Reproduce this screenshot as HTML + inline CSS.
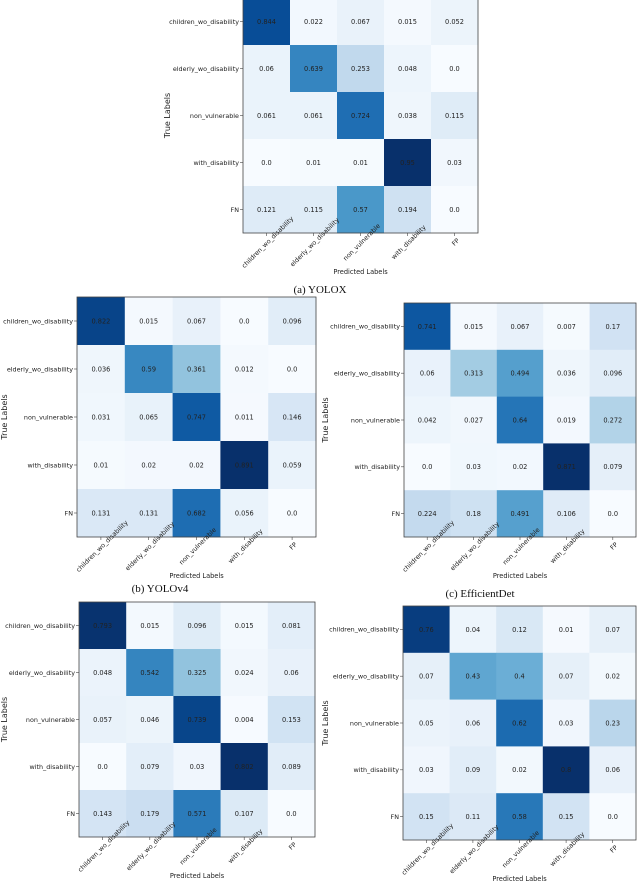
<!DOCTYPE html>
<html><head><meta charset="utf-8">
<style>
html,body{margin:0;padding:0;background:#fff;}
svg{display:block;}
text{font-family:"DejaVu Sans","Liberation Sans",sans-serif;}
.cap{font-family:"Liberation Serif",serif;font-size:11px;fill:#111;}
</style></head>
<body>
<svg id="fig" width="640" height="886" viewBox="0 0 640 886" xmlns="http://www.w3.org/2000/svg"></svg>
<script>
const categories = ["children_wo_disability","elderly_wo_disability","non_vulnerable","with_disability","FN"];
const predCategories = ["children_wo_disability","elderly_wo_disability","non_vulnerable","with_disability","FP"];
const yoloxValues = [
 [0.844,0.022,0.067,0.015,0.052],
 [0.06,0.639,0.253,0.048,0.0],
 [0.061,0.061,0.724,0.038,0.115],
 [0.0,0.01,0.01,0.95,0.03],
 [0.121,0.115,0.57,0.194,0.0]];
const yolov4Values = [
 [0.822,0.015,0.067,0.0,0.096],
 [0.036,0.59,0.361,0.012,0.0],
 [0.031,0.065,0.747,0.011,0.146],
 [0.01,0.02,0.02,0.891,0.059],
 [0.131,0.131,0.682,0.056,0.0]];
const efficientdetValues = [
 [0.741,0.015,0.067,0.007,0.17],
 [0.06,0.313,0.494,0.036,0.096],
 [0.042,0.027,0.64,0.019,0.272],
 [0.0,0.03,0.02,0.871,0.079],
 [0.224,0.18,0.491,0.106,0.0]];
const model4Values = [
 [0.793,0.015,0.096,0.015,0.081],
 [0.048,0.542,0.325,0.024,0.06],
 [0.057,0.046,0.739,0.004,0.153],
 [0.0,0.079,0.03,0.802,0.089],
 [0.143,0.179,0.571,0.107,0.0]];
const model5Values = [
 [0.76,0.04,0.12,0.01,0.07],
 [0.07,0.43,0.4,0.07,0.02],
 [0.05,0.06,0.62,0.03,0.23],
 [0.03,0.09,0.02,0.8,0.06],
 [0.15,0.11,0.58,0.15,0.0]];
const captions = ["(a) YOLOX","(b) YOLOv4","(c) EfficientDet","",""];

const layouts = [
 {key:"yolox",vals:yoloxValues,l:243,t:-2,w:235,h:235,ylx:170,cap:[320,293]},
 {key:"yolov4",vals:yolov4Values,l:77,t:297,w:239,h:240,ylx:7,cap:[160,592]},
 {key:"efficientdet",vals:efficientdetValues,l:404,t:303,w:232,h:234,ylx:328,cap:[480,597]},
 {key:"model-d",vals:model4Values,l:79,t:602,w:236,h:235,ylx:7,cap:null},
 {key:"model-e",vals:model5Values,l:403,t:606,w:233,h:234,ylx:328,cap:null}];

const blues=["#f7fbff","#deebf7","#c6dbef","#9ecae1","#6baed6","#4292c6","#2171b5","#08519c","#08306b"];
function hex(c){return [1,3,5].map(i=>parseInt(c.substr(i,2),16));}
function cmap(f){f=Math.max(0,Math.min(1,f));const p=f*8,i=Math.min(7,Math.floor(p)),r=p-i;
 const a=hex(blues[i]),b=hex(blues[i+1]);return "rgb("+a.map((v,k)=>Math.round(v+(b[k]-v)*r)).join(",")+")";}
function fmt(v){return Number.isInteger(v)?v.toFixed(1):String(v);}
const NS="http://www.w3.org/2000/svg";
const svg=document.getElementById("fig");
function mk(tag,attrs,parent,txt){const e=document.createElementNS(NS,tag);for(const k in attrs)e.setAttribute(k,attrs[k]);if(txt!==undefined)e.textContent=txt;parent.appendChild(e);return e;}

layouts.forEach((L,ci)=>{
 const g=mk("g",{},svg);
 
 
 const n=categories.length;
 const cw=L.w/n, chh=L.h/n;
 const xPos=j=>L.l+j*cw, yPos=i=>L.t+i*chh;
 let mx=0;L.vals.forEach(r=>r.forEach(v=>{if(v>mx)mx=v;}));
 L.vals.forEach((row,i)=>row.forEach((v,j)=>{
  const r=mk("rect",{x:xPos(j),y:yPos(i),width:cw+0.3,height:chh+0.3,fill:cmap(v/mx)},g);
  
  
 }));
 const fr=mk("rect",{x:L.l,y:L.t,width:L.w,height:L.h,fill:"none",stroke:"#444","stroke-width":"0.8"},g);
 
 
 categories.forEach((c,i)=>{
  const y=yPos(i)+chh/2;
  mk("line",{x1:L.l-3,x2:L.l,y1:y,y2:y,stroke:"#444","stroke-width":"0.6"},g);
  const t=mk("text",{x:L.l-4,y:y+2.3,"text-anchor":"end","font-size":"6.4","fill":"#222"},g,c);
  
  
 });
 predCategories.forEach((c,j)=>{
  const x=xPos(j)+cw/2, yb=L.t+L.h;
  mk("line",{x1:x,x2:x,y1:yb,y2:yb+3,stroke:"#444","stroke-width":"0.6"},g);
  const cx=x+1, cy=yb+9;
  const t=mk("text",{x:cx,y:cy+2.3,"text-anchor":"middle","font-size":"6.4","fill":"#222",transform:"rotate(-45 "+cx+" "+cy+")"},g,c);
  
  
 });
 L.vals.forEach((row,i)=>row.forEach((v,j)=>{
  const t=mk("text",{x:xPos(j)+cw/2,y:yPos(i)+chh/2+2.4,"text-anchor":"middle","font-size":"6.6","fill":"#222"},g,fmt(v));
  
  
 }));
 const xt=mk("text",{x:L.l+L.w/2,y:L.t+L.h+41,"text-anchor":"middle","font-size":"6.6","fill":"#222"},g,"Predicted Labels");
 
 
 const cy=L.t+L.h/2;
 const yt=mk("text",{x:L.ylx,y:cy,"text-anchor":"middle","font-size":"8","fill":"#222",transform:"rotate(-90 "+L.ylx+" "+cy+")"},g,"True Labels");
 
 
 if(L.cap){
  const cp=mk("text",{x:L.cap[0],y:L.cap[1],"text-anchor":"middle","class":"cap"},g,captions[ci]);
  
  
 }
});
</script>
</body></html>
